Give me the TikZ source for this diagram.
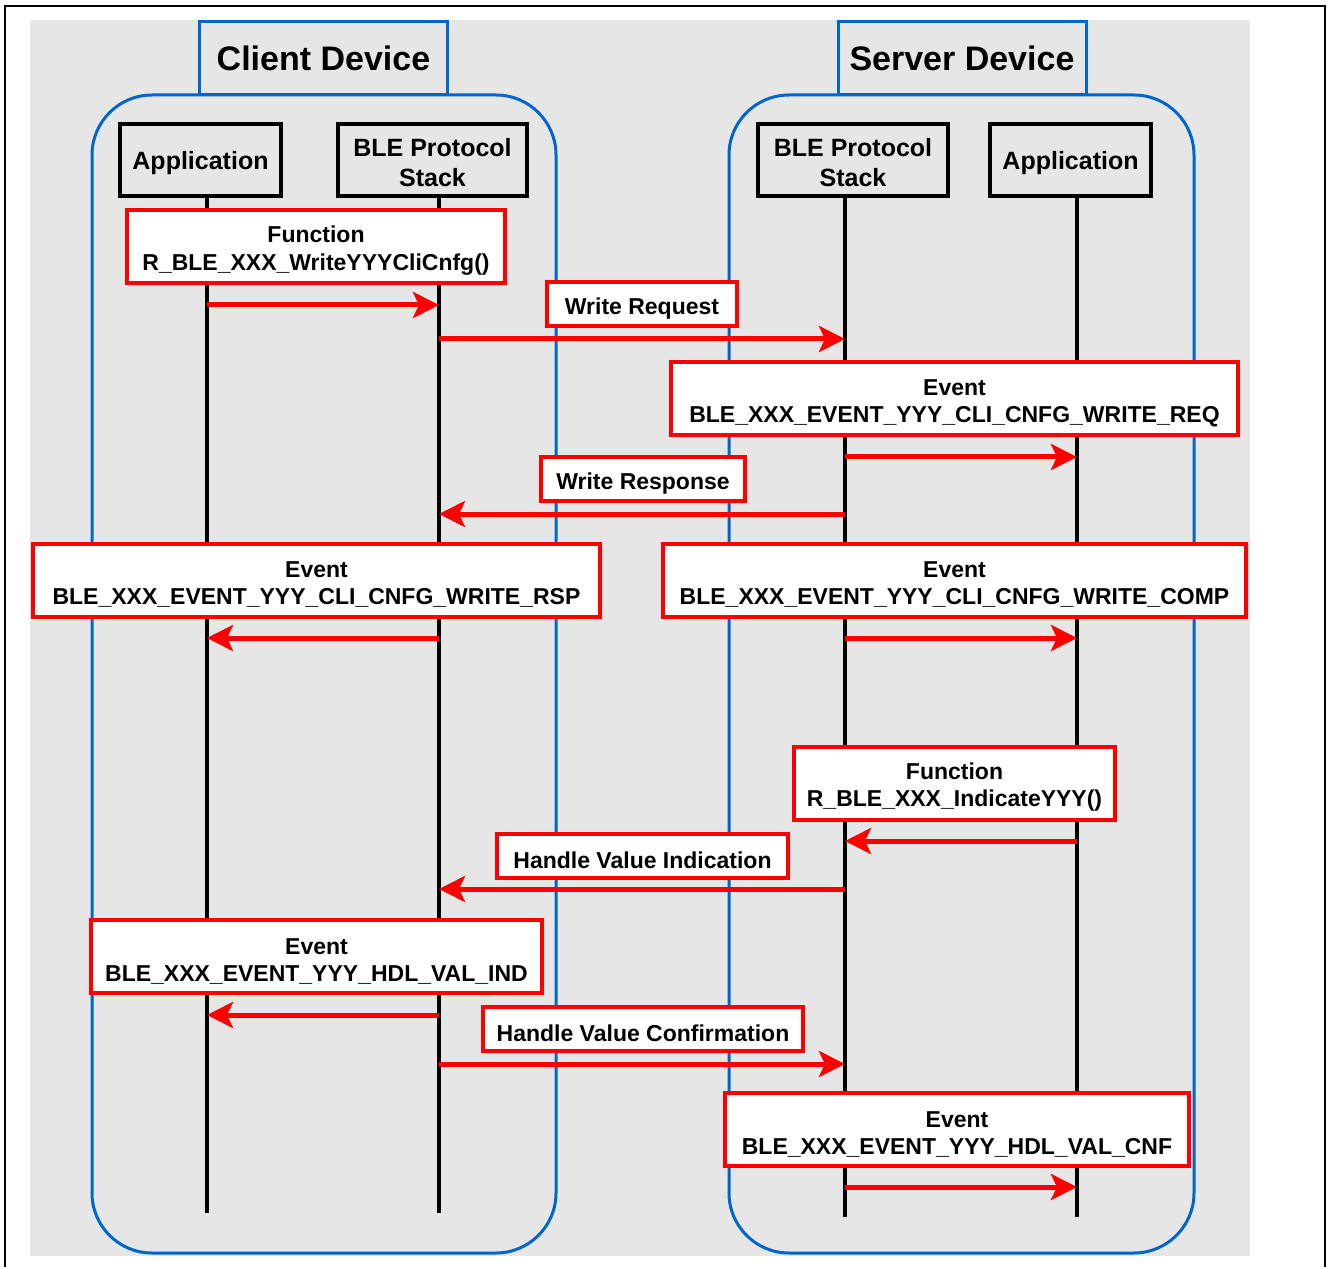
\documentclass[tikz,border=0pt]{standalone}
\usepackage{fontspec}
\setmainfont{Liberation Sans}
\usepackage{tikz}
\usetikzlibrary{
  arrows.meta,
  positioning
}
\definecolor{devblue}{HTML}{0066CC}
\definecolor{bggrey}{HTML}{E6E6E6}
\tikzset{
  devbox/.style={draw=devblue, line width=1.5pt, fill=bggrey,
    minimum width=124pt, minimum height=36.5pt, inner sep=0pt,
    font=\fontsize{17}{20}\selectfont\bfseries},
  devframe/.style={draw=devblue, line width=1.5pt, rounded corners=30pt,
    minimum width=232pt, minimum height=579pt, inner sep=0pt},
  partbox/.style={draw, line width=2pt, align=center, inner sep=0pt,
    minimum height=36pt,
    font=\fontsize{12.5}{15}\selectfont\bfseries},
  msgbox/.style={draw=red, fill=white, line width=2pt, align=center,
    inner sep=0pt, minimum height=36.5pt,
    font=\fontsize{11.5}{13.6}\selectfont\bfseries},
  sigbox/.style={msgbox, minimum height=22pt},
  lifeline/.style={line width=2pt},
  msg/.style={draw=red, line width=2.5pt,
    -{Stealth[length=13pt, width=13pt, inset=3pt]}},
}
\newcommand{\lift}{\rule{0pt}{12.5pt}}
\newcommand{\liftpart}{\rule{0pt}{12pt}}

\begin{document}
\begin{tikzpicture}[x=0.5pt, y=-0.5pt]
  \useasboundingbox (0,0) rectangle (1328,1267);
  \fill[bggrey] (30,20) rectangle (1250,1256);
  \draw[line width=1.2pt] (5,1290) -- (5,6) -- (1325,6) -- (1325,1290);

  % Device frames
  \node[devframe] (cliframe) at (324,674) {};
  \node[devframe, minimum width=232.5pt] (srvframe) at (961.5,674) {};
  \node[devbox] (clihead) at (323.5,58.5) {Client Device};
  \node[devbox] (srvhead) at (962,58.5) {Server Device};

  % Layers
  \node[partbox, minimum width=80.5pt] (cliapp) at (200.5,160)
    {\liftpart Application};
  \node[partbox, minimum width=94.5pt] (clistack) at (432.5,160)
    {\liftpart BLE Protocol\\Stack};
  \node[partbox, minimum width=95pt] (srvstack) at (853,160)
    {\liftpart BLE Protocol\\Stack};
  \node[partbox, minimum width=80.5pt] (srvapp) at (1070.5,160)
    {\liftpart Application};

  % Lifelines
  \coordinate (cliapptop) at (207,196);
  \coordinate (cliappend) at (207,1213);
  \coordinate (clistacktop) at (439,196);
  \coordinate (clistackend) at (439,1213);
  \coordinate (srvstacktop) at (845,196);
  \coordinate (srvstackend) at (845,1217);
  \coordinate (srvapptop) at (1077,196);
  \coordinate (srvappend) at (1077,1217);
  \draw[lifeline] (cliapptop) -- (cliappend);
  \draw[lifeline] (clistacktop) -- (clistackend);
  \draw[lifeline] (srvstacktop) -- (srvstackend);
  \draw[lifeline] (srvapptop) -- (srvappend);

  % Labels
  \node[msgbox, minimum width=189pt] (fnwrite) at (316,246.5)
    {\lift Function\\R\_BLE\_XXX\_WriteYYYCliCnfg()};
  \node[sigbox, minimum width=95pt] (wreq) at (642,304)
    {\lift Write Request};
  \node[msgbox, minimum width=283.5pt] (evreq) at (954.5,398.5)
    {\lift Event\\BLE\_XXX\_EVENT\_YYY\_CLI\_CNFG\_WRITE\_REQ};
  \node[sigbox, minimum width=102pt] (wrsp) at (643,479)
    {\lift Write Response};
  \node[msgbox, minimum width=283.5pt] (evrsp) at (316.5,580)
    {\lift Event\\BLE\_XXX\_EVENT\_YYY\_CLI\_CNFG\_WRITE\_RSP};
  \node[msgbox, minimum width=291.5pt] (evcomp) at (954.5,580)
    {\lift Event\\BLE\_XXX\_EVENT\_YYY\_CLI\_CNFG\_WRITE\_COMP};
  \node[msgbox, minimum width=160.5pt] (fnind) at (954.5,783)
    {\lift Function\\R\_BLE\_XXX\_IndicateYYY()};
  \node[sigbox, minimum width=145.5pt] (hvi) at (642.5,856)
    {\lift Handle Value Indication};
  \node[msgbox, minimum width=225.5pt] (evind) at (316.5,956.5)
    {\lift Event\\BLE\_XXX\_EVENT\_YYY\_HDL\_VAL\_IND};
  \node[sigbox, minimum width=160pt] (hvc) at (643,1029)
    {\lift Handle Value Confirmation};
  \node[msgbox, minimum width=232pt] (evcnf) at (957,1129.5)
    {\lift Event\\BLE\_XXX\_EVENT\_YYY\_HDL\_VAL\_CNF};

  % Messages
  \coordinate (m1a) at (207,305);   \coordinate (m1b) at (439,305);
  \coordinate (m2a) at (439,339);   \coordinate (m2b) at (845,339);
  \coordinate (m3a) at (845,457);   \coordinate (m3b) at (1077,457);
  \coordinate (m4a) at (845,514);   \coordinate (m4b) at (439,514);
  \coordinate (m5a) at (439,638);   \coordinate (m5b) at (207,638);
  \coordinate (m6a) at (845,638);   \coordinate (m6b) at (1077,638);
  \coordinate (m7a) at (1077,841);  \coordinate (m7b) at (845,841);
  \coordinate (m8a) at (845,889);   \coordinate (m8b) at (439,889);
  \coordinate (m9a) at (439,1015);  \coordinate (m9b) at (207,1015);
  \coordinate (m10a) at (439,1064); \coordinate (m10b) at (845,1064);
  \coordinate (m11a) at (845,1187); \coordinate (m11b) at (1077,1187);
  \draw[msg] (m1a) -- (m1b);
  \draw[msg] (m2a) -- (m2b);
  \draw[msg] (m3a) -- (m3b);
  \draw[msg] (m4a) -- (m4b);
  \draw[msg] (m5a) -- (m5b);
  \draw[msg] (m6a) -- (m6b);
  \draw[msg] (m7a) -- (m7b);
  \draw[msg] (m8a) -- (m8b);
  \draw[msg] (m9a) -- (m9b);
  \draw[msg] (m10a) -- (m10b);
  \draw[msg] (m11a) -- (m11b);
\end{tikzpicture}
\end{document}
